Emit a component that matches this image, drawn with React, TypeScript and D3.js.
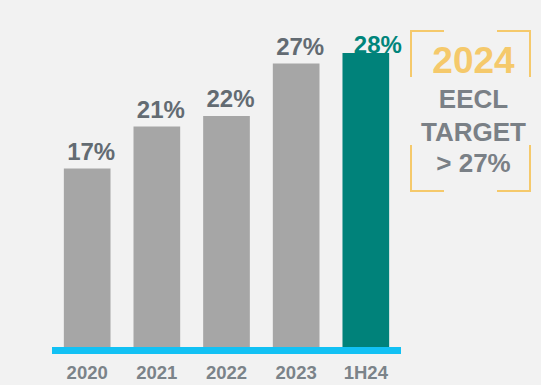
import React from "react";
import * as d3 from "d3";

const categories = ["2020", "2021", "2022", "2023", "1H24"];
const values = [17, 21, 22, 27, 28];
const highlightCategory = "1H24";
const targetYear = "2024";
const targetLines = ["EECL", "TARGET", "> 27%"];

const W = 541;
const H = 385;
const FONT = "'Liberation Sans', Arial, sans-serif";

export default function App() {
  const x = d3
    .scaleBand<string>()
    .domain(categories)
    .range([52, 401])
    .paddingInner(0.33)
    .paddingOuter(0.17);
  const y = d3.scaleLinear().domain([0, 28]).range([347, 53]);

  const bw = x.bandwidth();
  const gold = "#f5c96b";

  // corner brackets around the target callout
  const bx0 = 411, bx1 = 530, by0 = 31, by1 = 191, arm = 33, vArm = 46;
  const brackets = [
    `M${bx0},${by0 + vArm}V${by0}H${bx0 + arm}`,
    `M${bx1 - arm},${by0}H${bx1}V${by0 + vArm}`,
    `M${bx0},${by1 - vArm}V${by1}H${bx0 + arm}`,
    `M${bx1 - arm},${by1}H${bx1}V${by1 - vArm}`,
  ];

  return (
    <svg
      width={W}
      height={H}
      style={{ position: "absolute", left: 0, top: 0, background: "#f2f2f2" }}
      fontFamily={FONT}
      fontWeight="bold"
    >
      <rect width={W} height={H} fill="#f2f2f2" />
      {categories.map((c, i) => {
        const hi = c === highlightCategory;
        const top = y(values[i]);
        return (
          <g key={c}>
            <rect
              x={x(c)}
              y={top}
              width={bw}
              height={y(0) - top}
              fill={hi ? "#00827a" : "#a6a6a6"}
            />
            <text
              x={(x(c) as number) + bw / 2 + (hi ? 12 : 4)}
              y={hi ? top : top - 9}
              textAnchor="middle"
              fontSize={24}
              fill={hi ? "#00857b" : "#636b72"}
            >
              {values[i]}%
            </text>
            <text
              x={(x(c) as number) + bw / 2}
              y={379}
              textAnchor="middle"
              fontSize={18.5}
              fill="#7b8389"
            >
              {c}
            </text>
          </g>
        );
      })}
      <rect x={52} y={347} width={349} height={7} fill="#12c1f4" />

      {brackets.map((d, i) => (
        <path key={i} d={d} fill="none" stroke={gold} strokeWidth={2} />
      ))}
      <text x={473.5} y={73.3} textAnchor="middle" fontSize={37} fill={gold}>
        {targetYear}
      </text>
      {targetLines.map((t, i) => (
        <text
          key={t}
          x={473.5}
          y={[108.3, 140.7, 171.7][i]}
          textAnchor="middle"
          fontSize={26}
          fill="#7a8086"
        >
          {t}
        </text>
      ))}
    </svg>
  );
}
